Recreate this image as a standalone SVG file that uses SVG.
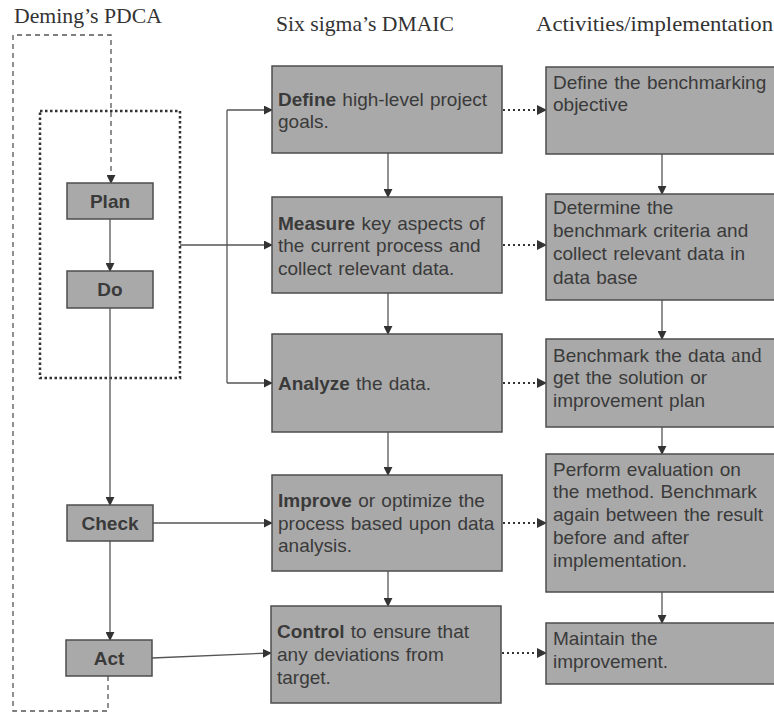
<svg xmlns="http://www.w3.org/2000/svg" width="774" height="712" viewBox="0 0 774 712">
<defs>
<marker id="ah" viewBox="0 0 10 10" refX="9" refY="5" markerWidth="9" markerHeight="9" markerUnits="userSpaceOnUse" orient="auto">
<path d="M0,0 L10,5 L0,10 z" fill="#333"/>
</marker>
<marker id="ahl" viewBox="0 0 10 10" refX="9" refY="5" markerWidth="10" markerHeight="10" markerUnits="userSpaceOnUse" orient="auto">
<path d="M0,0 L10,5 L0,10 z" fill="#333"/>
</marker>
</defs>
<style>
.title{font-family:"Liberation Serif","Times New Roman",serif;font-size:21px;fill:#333}
.box{fill:#a9a9a9;stroke:#4d4d4d;stroke-width:1.5}
.pd{font-family:"Liberation Sans",Arial,sans-serif;font-size:19px;font-weight:bold;fill:#3a3a3a;text-anchor:middle}
.t{font-family:"Liberation Sans",Arial,sans-serif;font-size:19px;fill:#3a3a3a;word-spacing:1px}
.b{font-weight:bold}
.ln{fill:none;stroke:#555;stroke-width:1.3}
.dot{fill:none;stroke:#333;stroke-width:2;stroke-dasharray:2 3}
.dash{fill:none;stroke:#555;stroke-width:1.3;stroke-dasharray:5 4}
.sq{fill:none;stroke:#333;stroke-width:2.5;stroke-dasharray:2.5 2.5}
</style>
<text class="title" x="14" y="23" textLength="148" lengthAdjust="spacingAndGlyphs">Deming’s PDCA</text>
<text class="title" x="276" y="31" textLength="178" lengthAdjust="spacingAndGlyphs">Six sigma’s DMAIC</text>
<text class="title" x="536" y="31" textLength="237" lengthAdjust="spacingAndGlyphs">Activities/implementation</text>

<g id="connectors">
<rect class="sq" x="40" y="111" width="140" height="267"/>
<path class="dash" d="M108,676 L108,711 L13,711 L13,35 L111,35 L111,183" marker-end="url(#ah)"/>
<path class="ln" d="M110,219 L110,271" marker-end="url(#ah)"/>
<path class="ln" d="M110,308 L110,505" marker-end="url(#ah)"/>
<path class="ln" d="M110,541 L110,640" marker-end="url(#ah)"/>
<path class="ln" d="M180,245 L227,245"/>
<path class="ln" d="M227,110 L227,383"/>
<path class="ln" d="M227,110 L272,110" marker-end="url(#ah)"/>
<path class="ln" d="M227,245 L272,245" marker-end="url(#ah)"/>
<path class="ln" d="M227,383 L272,383" marker-end="url(#ah)"/>
<path class="ln" d="M153,523 L272,523" marker-end="url(#ah)"/>
<path class="ln" d="M152,658 L271,653" marker-end="url(#ah)"/>
<path class="ln" d="M388,153 L388,197" marker-end="url(#ah)"/>
<path class="ln" d="M388,293 L388,334" marker-end="url(#ah)"/>
<path class="ln" d="M388,432 L388,475" marker-end="url(#ah)"/>
<path class="ln" d="M388,571 L388,606" marker-end="url(#ah)"/>
<path class="ln" d="M662,154 L662,194" marker-end="url(#ah)"/>
<path class="ln" d="M662,300 L662,339" marker-end="url(#ah)"/>
<path class="ln" d="M662,427 L662,454" marker-end="url(#ah)"/>
<path class="ln" d="M662,592 L662,623" marker-end="url(#ah)"/>
<path class="dot" d="M503,110 L546,110" marker-end="url(#ahl)"/>
<path class="dot" d="M503,245 L546,245" marker-end="url(#ahl)"/>
<path class="dot" d="M503,383 L546,383" marker-end="url(#ahl)"/>
<path class="dot" d="M503,523 L546,523" marker-end="url(#ahl)"/>
<path class="dot" d="M502,653 L546,653" marker-end="url(#ahl)"/>
</g>

<g id="plan"><rect class="box" x="67" y="183" width="86" height="36"/><text class="pd" x="110" y="208">Plan</text></g>
<g id="do"><rect class="box" x="67" y="271" width="86" height="37"/><text class="pd" x="110" y="296">Do</text></g>
<g id="check"><rect class="box" x="67" y="505" width="86" height="36"/><text class="pd" x="110" y="530">Check</text></g>
<g id="act"><rect class="box" x="66" y="640" width="86" height="36"/><text class="pd" x="109" y="665">Act</text></g>

<g id="define"><rect class="box" x="272" y="66" width="230" height="87"/>
<text class="t" x="278" y="106"><tspan class="b">Define</tspan> high-level project</text>
<text class="t" x="278" y="128">goals.</text></g>
<g id="measure"><rect class="box" x="272" y="197" width="230" height="96"/>
<text class="t" x="278" y="230"><tspan class="b">Measure</tspan> key aspects of</text>
<text class="t" x="278" y="252">the current process and</text>
<text class="t" x="278" y="275">collect relevant data.</text></g>
<g id="analyze"><rect class="box" x="272" y="334" width="230" height="98"/>
<text class="t" x="278" y="390"><tspan class="b">Analyze</tspan> the data.</text></g>
<g id="improve"><rect class="box" x="272" y="475" width="230" height="96"/>
<text class="t" x="278" y="507"><tspan class="b">Improve</tspan> or optimize the</text>
<text class="t" x="278" y="530">process based upon data</text>
<text class="t" x="278" y="552">analysis.</text></g>
<g id="control"><rect class="box" x="271" y="606" width="230" height="97"/>
<text class="t" x="277" y="638"><tspan class="b">Control</tspan> to ensure that</text>
<text class="t" x="277" y="661">any deviations from</text>
<text class="t" x="277" y="684">target.</text></g>

<g id="act1"><rect class="box" x="546" y="67" width="240" height="87"/>
<text class="t" x="553" y="89">Define the benchmarking</text>
<text class="t" x="553" y="111">objective</text></g>
<g id="act2"><rect class="box" x="546" y="194" width="240" height="106"/>
<text class="t" x="553" y="214">Determine the</text>
<text class="t" x="553" y="237">benchmark criteria and</text>
<text class="t" x="553" y="260">collect relevant data in</text>
<text class="t" x="553" y="284">data base</text></g>
<g id="act3"><rect class="box" x="546" y="339" width="240" height="88"/>
<text class="t" x="553" y="362">Benchmark the data <tspan style="font-family:'Liberation Serif','Times New Roman',serif;font-size:21px">and</tspan></text>
<text class="t" x="553" y="384">get the solution or</text>
<text class="t" x="553" y="407">improvement plan</text></g>
<g id="act4"><rect class="box" x="546" y="454" width="240" height="138"/>
<text class="t" x="553" y="476">Perform evaluation on</text>
<text class="t" x="553" y="498">the method. Benchmark</text>
<text class="t" x="553" y="521">again between the result</text>
<text class="t" x="553" y="544">before and after</text>
<text class="t" x="553" y="567">implementation.</text></g>
<g id="act5"><rect class="box" x="546" y="623" width="240" height="61"/>
<text class="t" x="553" y="645">Maintain the</text>
<text class="t" x="553" y="668">improvement.</text></g>
</svg>
